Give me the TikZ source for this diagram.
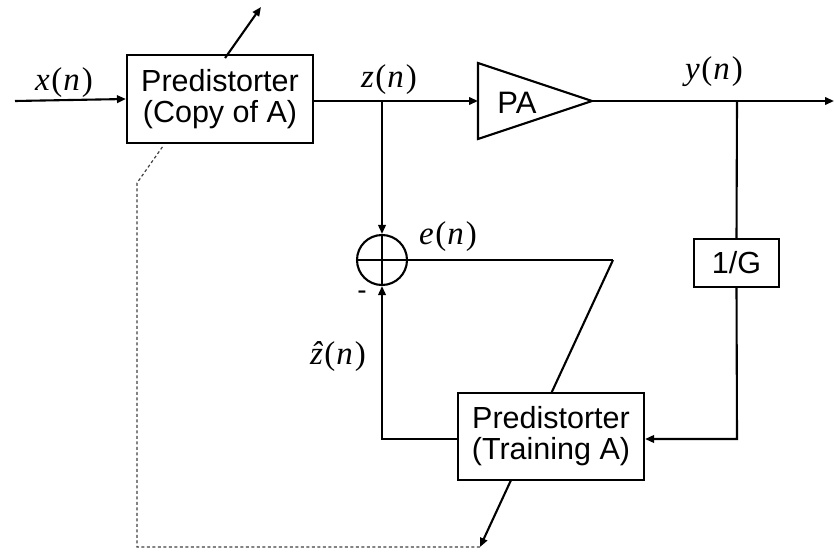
\documentclass[tikz,border=0pt]{standalone}
\usepackage{fontspec}
\setmainfont{Liberation Sans}
\newfontfamily\serifrm{Liberation Serif}
\usetikzlibrary{arrows.meta}
\newcommand\sig[1]{{\itshape #1}\kern1.5pt(\kern1pt{\itshape n}\kern2pt)}
\begin{document}
\begin{tikzpicture}[x=1pt,y=-1pt,
  wire/.style={line width=2.1pt},
  tip/.style={-{Triangle[length=9pt,width=7.5pt]}},
  blk/.style={draw,line width=2.1pt,fill=white,align=center,inner sep=0pt,
    font=\fontsize{30.5}{31}\selectfont},
  mlbl/.style={font=\fontsize{33}{33}\selectfont\serifrm,inner sep=0pt},
  dsh/.style={line width=1.2pt,dash pattern=on 3pt off 2.5pt,draw=black!75}]
\useasboundingbox (0,0) rectangle (834,551);
% coordinates
\coordinate (xin) at (15,101);
\coordinate (zj) at (382,101);
\coordinate (paL) at (478,101);
\coordinate (paT) at (478,63);
\coordinate (paB) at (478,139);
\coordinate (paR) at (592,101);
\coordinate (yj) at (737,101);
\coordinate (yout) at (834,101);
\coordinate (ecor) at (613,260);
\coordinate (etip) at (480,547);
\coordinate (dA) at (137,183);
\coordinate (dB) at (137,547);
\coordinate (atip) at (261,7);
\coordinate (zb) at (382,439);
\coordinate (gb) at (737,439);
% adaptation line through training box (behind)
\draw[wire,tip] (ecor) -- (etip);
% nodes
\node[blk,minimum width=186,minimum height=88] (copy) at (220,99) {Predistorter\\(Copy of A)};
\node[blk,minimum width=186,minimum height=87] (train) at (551,436.5) {Predistorter\\(Training A)};
\node[blk,minimum width=85,minimum height=48] (g) at (736.5,263) {1/G};
\node[draw,circle,line width=2.1pt,minimum size=50,inner sep=0pt] (s) at (382,260) {};
\draw[wire] (s.north) -- (s.south) (s.west) -- (s.east);
% PA
\draw[line width=2.1pt,line join=miter] (paT) -- (paR) -- (paB) -- cycle;
\node[font=\fontsize{31}{31}\selectfont] (pa) at (517,103) {PA};
% wires
\draw[wire,tip] (xin) -- (copy.west);
\draw[wire,tip] (copy.east |- zj) -- (paL);
\draw[wire,tip] (paR) -- (yout);
\draw[wire,tip] (zj) -- (s.north);
\draw[wire] (s.east) -- (ecor);
\draw[wire,tip] (train.west |- zb) -- (zb) -- (s.south);
\draw[wire] (yj) -- (g.north);
\draw[wire,tip] (g.south) -- (gb) -- (train.east |- gb);
% adaptation arrow top (through copy box)
\path (dA) -- (atip) coordinate[pos=0.205] (cb) coordinate[pos=0.71] (ct);
\draw[wire,tip] (ct) -- (atip);
\draw[dsh] (cb) -- (dA) -- (dB) -- (etip);
% labels
\node[mlbl] (lx) at (64,83) {\sig{x}};
\node[mlbl] (lz) at (389,80) {\sig{z}};
\node[mlbl] (ly) at (714,72) {\sig{y}};
\node[mlbl] (le) at (448,237) {\sig{e}};
\node[mlbl] (lzh) at (338,357) {\sig{z^^^^0302}};
\node[font=\fontsize{28}{28}\selectfont] (minus) at (362,295) {-};
\end{tikzpicture}
\end{document}
